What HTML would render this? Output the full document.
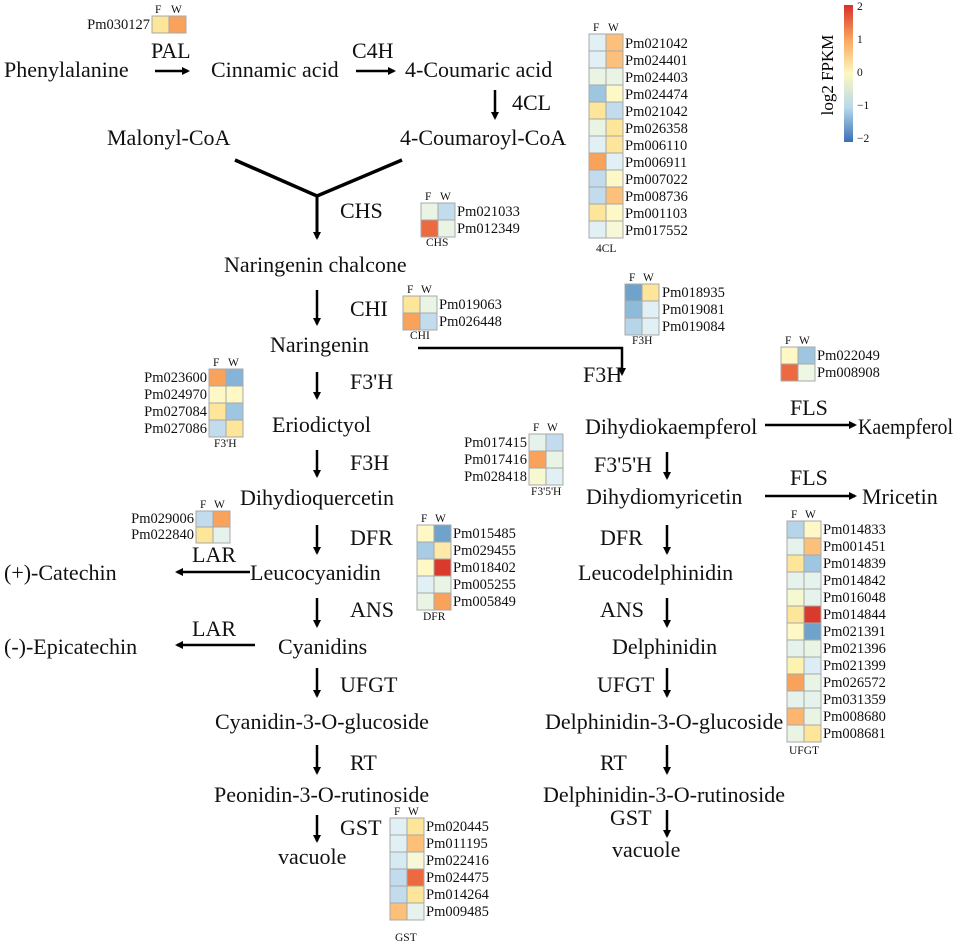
<!DOCTYPE html>
<html><head><meta charset="utf-8"><style>
body{margin:0;background:#fff}
svg{display:block;font-family:"Liberation Serif",serif}
.t{font-size:22px;fill:#111}
.s{font-size:14.5px;fill:#111}
.h{font-size:11.5px;fill:#111}
.c rect{stroke:#a8a8a8;stroke-width:1}
</style></head><body>
<svg width="957" height="948" viewBox="0 0 957 948" xmlns="http://www.w3.org/2000/svg">
<defs>
<marker id="a" markerWidth="8" markerHeight="8" refX="6" refY="4" orient="auto" markerUnits="userSpaceOnUse"><path d="M0,0 L8,4 L0,8 Z" fill="#000"/></marker>
<linearGradient id="lg" x1="0" y1="1" x2="0" y2="0"><stop offset="0" stop-color="#3b6fb6"/><stop offset="0.25" stop-color="#b7d8ea"/><stop offset="0.5" stop-color="#fcf8c0"/><stop offset="0.75" stop-color="#f9a65e"/><stop offset="1" stop-color="#d7302a"/></linearGradient>
</defs>
<g stroke="#000" stroke-width="2.5" fill="none">
<line x1="155" y1="71" x2="188" y2="71" marker-end="url(#a)"/>
<line x1="356" y1="71" x2="394" y2="71" marker-end="url(#a)"/>
<line x1="495" y1="90" x2="495" y2="118" marker-end="url(#a)"/>
<polyline points="235,160 317,196 402,160" stroke-width="3.5"/>
<line x1="317" y1="196" x2="317" y2="238" stroke-width="3" marker-end="url(#a)"/>
<line x1="317" y1="290" x2="317" y2="324" marker-end="url(#a)"/>
<polyline points="418,348 622,348 622,374" marker-end="url(#a)"/>
<line x1="317" y1="372" x2="317" y2="398" marker-end="url(#a)"/>
<line x1="317" y1="450" x2="317" y2="476" marker-end="url(#a)"/>
<line x1="317" y1="525" x2="317" y2="553" marker-end="url(#a)"/>
<line x1="250" y1="572" x2="177" y2="572" marker-end="url(#a)"/>
<line x1="317" y1="598" x2="317" y2="626" marker-end="url(#a)"/>
<line x1="255" y1="645" x2="177" y2="645" marker-end="url(#a)"/>
<line x1="317" y1="668" x2="317" y2="696" marker-end="url(#a)"/>
<line x1="317" y1="745" x2="317" y2="773" marker-end="url(#a)"/>
<line x1="317" y1="815" x2="317" y2="841" marker-end="url(#a)"/>
<line x1="765" y1="425" x2="855" y2="425" marker-end="url(#a)"/>
<line x1="667" y1="452" x2="667" y2="478" marker-end="url(#a)"/>
<line x1="765" y1="496" x2="855" y2="496" marker-end="url(#a)"/>
<line x1="667" y1="525" x2="667" y2="553" marker-end="url(#a)"/>
<line x1="667" y1="598" x2="667" y2="626" marker-end="url(#a)"/>
<line x1="667" y1="668" x2="667" y2="696" marker-end="url(#a)"/>
<line x1="667" y1="745" x2="667" y2="773" marker-end="url(#a)"/>
<line x1="667" y1="810" x2="667" y2="836" marker-end="url(#a)"/>
</g>
<g class="t">
<text x="4" y="77">Phenylalanine</text><text x="151" y="58">PAL</text>
<text x="211" y="77">Cinnamic acid</text><text x="352" y="58">C4H</text>
<text x="405" y="77">4-Coumaric acid</text><text x="512" y="110">4CL</text>
<text x="107" y="145">Malonyl-CoA</text><text x="400" y="145">4-Coumaroyl-CoA</text>
<text x="340" y="218">CHS</text><text x="224" y="272">Naringenin chalcone</text>
<text x="350" y="316">CHI</text><text x="270" y="352">Naringenin</text>
<text x="583" y="382">F3H</text><text x="350" y="389">F3'H</text>
<text x="272" y="432">Eriodictyol</text><text x="350" y="470">F3H</text>
<text x="240" y="505">Dihydioquercetin</text><text x="350" y="545">DFR</text>
<text x="250" y="580">Leucocyanidin</text><text x="192" y="562">LAR</text>
<text x="4" y="580">(+)-Catechin</text><text x="350" y="617">ANS</text>
<text x="278" y="654">Cyanidins</text><text x="192" y="636">LAR</text>
<text x="4" y="654">(-)-Epicatechin</text><text x="340" y="692">UFGT</text>
<text x="215" y="729">Cyanidin-3-O-glucoside</text><text x="350" y="770">RT</text>
<text x="214" y="802">Peonidin-3-O-rutinoside</text><text x="340" y="835">GST</text>
<text x="278" y="864">vacuole</text>
<text x="585" y="434">Dihydiokaempferol</text><text x="790" y="415">FLS</text>
<text x="858" y="434" textLength="95" lengthAdjust="spacingAndGlyphs">Kaempferol</text><text x="594" y="472">F3'5'H</text>
<text x="586" y="504">Dihydiomyricetin</text><text x="790" y="485">FLS</text>
<text x="862" y="504">Mricetin</text><text x="600" y="545">DFR</text>
<text x="578" y="580">Leucodelphinidin</text><text x="600" y="617">ANS</text>
<text x="612" y="654">Delphinidin</text><text x="597" y="692">UFGT</text>
<text x="545" y="729">Delphinidin-3-O-glucoside</text><text x="600" y="770">RT</text>
<text x="543" y="802">Delphinidin-3-O-rutinoside</text><text x="610" y="825">GST</text>
<text x="612" y="857">vacuole</text>
</g>
<!-- legend -->
<rect x="844" y="5" width="9" height="137" fill="url(#lg)"/>
<g class="h"><text x="857" y="10">2</text><text x="857" y="43">1</text><text x="857" y="76">0</text><text x="857" y="109">−1</text><text x="857" y="142">−2</text></g>
<text transform="translate(833,75) rotate(-90)" text-anchor="middle" style="font-size:17px">log2 FPKM</text>

<!-- PAL -->
<g class="c"><rect x="152" y="16" width="17" height="17" fill="#fde59a"/><rect x="169" y="16" width="17" height="17" fill="#f8a25c"/></g>
<text class="h" x="155" y="13">F</text><text class="h" x="171" y="13">W</text>
<text class="s" x="150" y="29" text-anchor="end">Pm030127</text>

<!-- 4CL -->
<g class="c">
<rect x="589" y="34" width="17" height="17" fill="#e0f0f5"/><rect x="606" y="34" width="17" height="17" fill="#fcc07a"/>
<rect x="589" y="51" width="17" height="17" fill="#e0f0f5"/><rect x="606" y="51" width="17" height="17" fill="#fcc07a"/>
<rect x="589" y="68" width="17" height="17" fill="#eaf4e4"/><rect x="606" y="68" width="17" height="17" fill="#eaf4e4"/>
<rect x="589" y="85" width="17" height="17" fill="#9ec6e0"/><rect x="606" y="85" width="17" height="17" fill="#fdf8c6"/>
<rect x="589" y="102" width="17" height="17" fill="#fde59a"/><rect x="606" y="102" width="17" height="17" fill="#c2dced"/>
<rect x="589" y="119" width="17" height="17" fill="#eaf4e4"/><rect x="606" y="119" width="17" height="17" fill="#fde59a"/>
<rect x="589" y="136" width="17" height="17" fill="#e0f0f5"/><rect x="606" y="136" width="17" height="17" fill="#fde59a"/>
<rect x="589" y="153" width="17" height="17" fill="#f8a25c"/><rect x="606" y="153" width="17" height="17" fill="#e0f0f5"/>
<rect x="589" y="170" width="17" height="17" fill="#c2dced"/><rect x="606" y="170" width="17" height="17" fill="#fdf8c6"/>
<rect x="589" y="187" width="17" height="17" fill="#c2dced"/><rect x="606" y="187" width="17" height="17" fill="#fcc07a"/>
<rect x="589" y="204" width="17" height="17" fill="#fde59a"/><rect x="606" y="204" width="17" height="17" fill="#fdf8c6"/>
<rect x="589" y="221" width="17" height="17" fill="#e0f0f5"/><rect x="606" y="221" width="17" height="17" fill="#f6f8d8"/>
</g>
<text class="h" x="593" y="31">F</text><text class="h" x="608" y="31">W</text><text class="h" x="596" y="252">4CL</text>
<g class="s"><text x="625" y="48">Pm021042</text><text x="625" y="65">Pm024401</text><text x="625" y="82">Pm024403</text><text x="625" y="99">Pm024474</text><text x="625" y="116">Pm021042</text><text x="625" y="133">Pm026358</text><text x="625" y="150">Pm006110</text><text x="625" y="167">Pm006911</text><text x="625" y="184">Pm007022</text><text x="625" y="201">Pm008736</text><text x="625" y="218">Pm001103</text><text x="625" y="235">Pm017552</text></g>

<!-- CHS -->
<g class="c"><rect x="421" y="203" width="17" height="17" fill="#eaf4e4"/><rect x="438" y="203" width="17" height="17" fill="#c2dced"/><rect x="421" y="220" width="17" height="17" fill="#ec6a40"/><rect x="438" y="220" width="17" height="17" fill="#eaf4e4"/></g>
<text class="h" x="425" y="200">F</text><text class="h" x="440" y="200">W</text><text class="h" x="426" y="246">CHS</text>
<g class="s"><text x="457" y="216">Pm021033</text><text x="457" y="233">Pm012349</text></g>

<!-- CHI -->
<g class="c"><rect x="403" y="296" width="17" height="17" fill="#fde59a"/><rect x="420" y="296" width="17" height="17" fill="#eaf4e4"/><rect x="403" y="313" width="17" height="17" fill="#f8a25c"/><rect x="420" y="313" width="17" height="17" fill="#c2dced"/></g>
<text class="h" x="407" y="293">F</text><text class="h" x="421" y="293">W</text><text class="h" x="410" y="339">CHI</text>
<g class="s"><text x="439" y="309">Pm019063</text><text x="439" y="326">Pm026448</text></g>

<!-- F3'H -->
<g class="c">
<rect x="209" y="369" width="17" height="17" fill="#f8a25c"/><rect x="226" y="369" width="17" height="17" fill="#85b4d8"/>
<rect x="209" y="386" width="17" height="17" fill="#fdf8c6"/><rect x="226" y="386" width="17" height="17" fill="#fdf8c6"/>
<rect x="209" y="403" width="17" height="17" fill="#fde59a"/><rect x="226" y="403" width="17" height="17" fill="#9ec6e0"/>
<rect x="209" y="420" width="17" height="17" fill="#c2dced"/><rect x="226" y="420" width="17" height="17" fill="#fde59a"/>
</g>
<text class="h" x="213" y="366">F</text><text class="h" x="228" y="366">W</text><text class="h" x="214" y="447">F3'H</text>
<g class="s" text-anchor="end"><text x="207" y="382">Pm023600</text><text x="207" y="399">Pm024970</text><text x="207" y="416">Pm027084</text><text x="207" y="433">Pm027086</text></g>

<!-- F3H -->
<g class="c">
<rect x="625" y="284" width="17" height="17" fill="#6fa3cc"/><rect x="642" y="284" width="17" height="17" fill="#fde59a"/>
<rect x="625" y="301" width="17" height="17" fill="#8fbbdb"/><rect x="642" y="301" width="17" height="17" fill="#e0f0f5"/>
<rect x="625" y="318" width="17" height="17" fill="#b7d5e8"/><rect x="642" y="318" width="17" height="17" fill="#e0f0f5"/>
</g>
<text class="h" x="629" y="281">F</text><text class="h" x="643" y="281">W</text><text class="h" x="632" y="344">F3H</text>
<g class="s"><text x="662" y="297">Pm018935</text><text x="662" y="314">Pm019081</text><text x="662" y="331">Pm019084</text></g>

<!-- FLS -->
<g class="c"><rect x="781" y="347" width="17" height="17" fill="#fdf8c6"/><rect x="798" y="347" width="17" height="17" fill="#9ec6e0"/><rect x="781" y="364" width="17" height="17" fill="#ec6a40"/><rect x="798" y="364" width="17" height="17" fill="#eef6e4"/></g>
<text class="h" x="785" y="344">F</text><text class="h" x="799" y="344">W</text>
<g class="s"><text x="817" y="360">Pm022049</text><text x="817" y="377">Pm008908</text></g>

<!-- F3'5'H -->
<g class="c">
<rect x="529" y="434" width="17" height="17" fill="#e6f2ec"/><rect x="546" y="434" width="17" height="17" fill="#c2dced"/>
<rect x="529" y="451" width="17" height="17" fill="#f8a25c"/><rect x="546" y="451" width="17" height="17" fill="#eaf4e4"/>
<rect x="529" y="468" width="17" height="17" fill="#f6f8d0"/><rect x="546" y="468" width="17" height="17" fill="#e0f0f5"/>
</g>
<text class="h" x="533" y="431">F</text><text class="h" x="547" y="431">W</text><text class="h" x="531" y="495">F3'5'H</text>
<g class="s" text-anchor="end"><text x="527" y="447">Pm017415</text><text x="527" y="464">Pm017416</text><text x="527" y="481">Pm028418</text></g>

<!-- LAR -->
<g class="c"><rect x="196" y="511" width="17" height="16" fill="#c2dced"/><rect x="213" y="511" width="17" height="16" fill="#f8a25c"/><rect x="196" y="527" width="17" height="16" fill="#fde59a"/><rect x="213" y="527" width="17" height="16" fill="#e6f2ec"/></g>
<text class="h" x="200" y="508">F</text><text class="h" x="214" y="508">W</text>
<g class="s" text-anchor="end"><text x="194" y="523">Pm029006</text><text x="194" y="539">Pm022840</text></g>

<!-- DFR -->
<g class="c">
<rect x="417" y="525" width="17" height="17" fill="#fdf8c6"/><rect x="434" y="525" width="17" height="17" fill="#6fa3cc"/>
<rect x="417" y="542" width="17" height="17" fill="#a8cce4"/><rect x="434" y="542" width="17" height="17" fill="#fde9a8"/>
<rect x="417" y="559" width="17" height="17" fill="#fdf8c6"/><rect x="434" y="559" width="17" height="17" fill="#d93a2b"/>
<rect x="417" y="576" width="17" height="17" fill="#e0f0f5"/><rect x="434" y="576" width="17" height="17" fill="#eaf4e4"/>
<rect x="417" y="593" width="17" height="17" fill="#eaf4e4"/><rect x="434" y="593" width="17" height="17" fill="#f8a25c"/>
</g>
<text class="h" x="421" y="522">F</text><text class="h" x="435" y="522">W</text><text class="h" x="423" y="620">DFR</text>
<g class="s"><text x="453" y="538">Pm015485</text><text x="453" y="555">Pm029455</text><text x="453" y="572">Pm018402</text><text x="453" y="589">Pm005255</text><text x="453" y="606">Pm005849</text></g>

<!-- UFGT -->
<g class="c">
<rect x="787" y="521" width="17" height="17" fill="#b7d5e8"/><rect x="804" y="521" width="17" height="17" fill="#fdf8c6"/>
<rect x="787" y="538" width="17" height="17" fill="#e6f2ec"/><rect x="804" y="538" width="17" height="17" fill="#fcc07a"/>
<rect x="787" y="555" width="17" height="17" fill="#fde59a"/><rect x="804" y="555" width="17" height="17" fill="#9ec6e0"/>
<rect x="787" y="572" width="17" height="17" fill="#e6f2ec"/><rect x="804" y="572" width="17" height="17" fill="#e6f2ec"/>
<rect x="787" y="589" width="17" height="17" fill="#f6f8d0"/><rect x="804" y="589" width="17" height="17" fill="#e6f2ec"/>
<rect x="787" y="606" width="17" height="17" fill="#fde59a"/><rect x="804" y="606" width="17" height="17" fill="#d93a2b"/>
<rect x="787" y="623" width="17" height="17" fill="#fdf8c6"/><rect x="804" y="623" width="17" height="17" fill="#6fa3cc"/>
<rect x="787" y="640" width="17" height="17" fill="#e6f2ec"/><rect x="804" y="640" width="17" height="17" fill="#eaf4e4"/>
<rect x="787" y="657" width="17" height="17" fill="#fdf3b0"/><rect x="804" y="657" width="17" height="17" fill="#ddedf6"/>
<rect x="787" y="674" width="17" height="17" fill="#f8a25c"/><rect x="804" y="674" width="17" height="17" fill="#eaf4e4"/>
<rect x="787" y="691" width="17" height="17" fill="#e6f2ec"/><rect x="804" y="691" width="17" height="17" fill="#e6f2ec"/>
<rect x="787" y="708" width="17" height="17" fill="#fcb670"/><rect x="804" y="708" width="17" height="17" fill="#eaf4e4"/>
<rect x="787" y="725" width="17" height="17" fill="#eaf4e4"/><rect x="804" y="725" width="17" height="17" fill="#fde59a"/>
</g>
<text class="h" x="791" y="518">F</text><text class="h" x="805" y="518">W</text><text class="h" x="789" y="754">UFGT</text>
<g class="s"><text x="823" y="534">Pm014833</text><text x="823" y="551">Pm001451</text><text x="823" y="568">Pm014839</text><text x="823" y="585">Pm014842</text><text x="823" y="602">Pm016048</text><text x="823" y="619">Pm014844</text><text x="823" y="636">Pm021391</text><text x="823" y="653">Pm021396</text><text x="823" y="670">Pm021399</text><text x="823" y="687">Pm026572</text><text x="823" y="704">Pm031359</text><text x="823" y="721">Pm008680</text><text x="823" y="738">Pm008681</text></g>

<!-- GST -->
<g class="c">
<rect x="390" y="818" width="17" height="17" fill="#e0f0f5"/><rect x="407" y="818" width="17" height="17" fill="#fde59a"/>
<rect x="390" y="835" width="17" height="17" fill="#e0f0f5"/><rect x="407" y="835" width="17" height="17" fill="#fcc07a"/>
<rect x="390" y="852" width="17" height="17" fill="#d6eaf2"/><rect x="407" y="852" width="17" height="17" fill="#f6f8d8"/>
<rect x="390" y="869" width="17" height="17" fill="#c2dced"/><rect x="407" y="869" width="17" height="17" fill="#ec6a40"/>
<rect x="390" y="886" width="17" height="17" fill="#c2dced"/><rect x="407" y="886" width="17" height="17" fill="#fde59a"/>
<rect x="390" y="903" width="17" height="17" fill="#fcc07a"/><rect x="407" y="903" width="17" height="17" fill="#e6f2ec"/>
</g>
<text class="h" x="394" y="815">F</text><text class="h" x="408" y="815">W</text><text class="h" x="395" y="941">GST</text>
<g class="s"><text x="426" y="831">Pm020445</text><text x="426" y="848">Pm011195</text><text x="426" y="865">Pm022416</text><text x="426" y="882">Pm024475</text><text x="426" y="899">Pm014264</text><text x="426" y="916">Pm009485</text></g>
</svg>
</body></html>
